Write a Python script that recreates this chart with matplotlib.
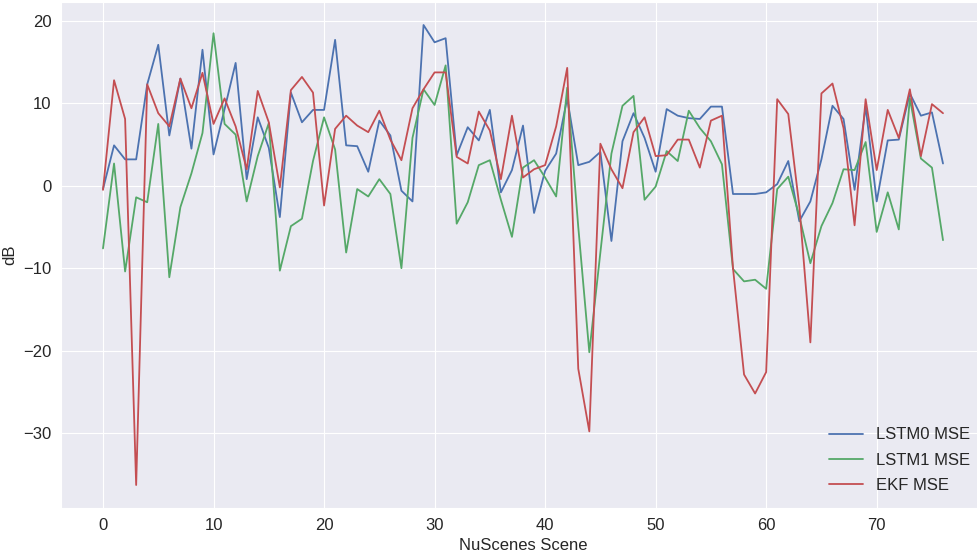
import numpy as np
import matplotlib
matplotlib.use("Agg")
import matplotlib.pyplot as plt
import seaborn as sns

# --------- data ---------
scenes = np.arange(77)

lstm0_mse = [
    -0.4, 4.9, 3.2, 3.2, 12.3, 17.1, 6.1, 13.0, 4.5, 16.5,
    3.8, 9.3, 14.9, 0.8, 8.3, 4.6, -3.8, 11.3, 7.7, 9.2,
    9.2, 17.7, 4.9, 4.8, 1.7, 7.9, 6.1, -0.6, -1.9, 19.5,
    17.4, 17.9, 3.7, 7.1, 5.5, 9.2, -0.8, 1.9, 7.3, -3.3,
    1.8, 3.9, 10.6, 2.5, 2.9, 4.1, -6.7, 5.4, 8.8, 5.8,
    1.7, 9.3, 8.5, 8.2, 8.1, 9.6, 9.6, -1.0, -1.0, -1.0,
    -0.8, 0.2, 3.0, -4.3, -1.9, 3.2, 9.7, 8.1, -0.5, 9.6,
    -1.9, 5.5, 5.6, 11.2, 8.5, 8.9, 2.7,
]

lstm1_mse = [
    -7.6, 2.7, -10.4, -1.4, -2.0, 7.5, -11.1, -2.6, 1.5, 6.4,
    18.5, 7.5, 6.2, -1.9, 3.6, 7.6, -10.3, -4.9, -4.0, 3.0,
    8.3, 4.4, -8.1, -0.4, -1.3, 0.8, -1.0, -10.0, 5.8, 11.7,
    9.8, 14.6, -4.6, -2.0, 2.5, 3.1, -1.7, -6.2, 2.2, 3.1,
    1.0, -1.3, 11.9, -5.0, -20.2, -8.1, 3.9, 9.7, 10.9, -1.7,
    -0.1, 4.2, 3.0, 9.1, 7.0, 5.4, 2.6, -10.1, -11.6, -11.4,
    -12.5, -0.4, 1.1, -3.7, -9.4, -4.9, -2.1, 2.0, 1.9, 5.3,
    -5.6, -0.8, -5.3, 10.6, 3.3, 2.2, -6.6,
]

ekf_mse = [
    -0.5, 12.8, 8.1, -36.3, 12.3, 8.8, 7.2, 13.0, 9.4, 13.7,
    7.5, 10.6, 7.2, 2.0, 11.5, 7.7, -0.2, 11.6, 13.2, 11.3,
    -2.4, 6.9, 8.5, 7.3, 6.5, 9.1, 5.6, 3.1, 9.4, 11.7,
    13.75, 13.75, 3.5, 2.7, 9.0, 6.7, 0.8, 8.5, 1.0, 2.0,
    2.5, 7.2, 14.3, -22.2, -29.8, 5.1, 2.0, -0.3, 6.5, 8.3,
    3.6, 3.7, 5.6, 5.6, 2.2, 7.9, 8.5, -10.0, -22.9, -25.2,
    -22.6, 10.5, 8.7, -2.5, -19.0, 11.2, 12.4, 7.0, -4.8, 10.5,
    1.9, 9.2, 5.8, 11.7, 3.6, 9.9, 8.8,
]

# --------- style ---------
sns.set_style("darkgrid")
plt.rcParams["font.family"] = ["Liberation Sans", "DejaVu Sans"]
plt.rcParams["font.size"] = 12

fig = plt.figure(figsize=(9.77, 5.58), dpi=100)
# axes runs a little past the right edge, like the cropped original
ax = fig.add_axes([61 / 977, 1 - 508 / 558, 924 / 977, 506 / 558])

ax.plot(scenes, lstm0_mse, color="#4C72B0", lw=1.3, label="LSTM0 MSE")
ax.plot(scenes, lstm1_mse, color="#55A868", lw=1.3, label="LSTM1 MSE")
ax.plot(scenes, ekf_mse, color="#C44E52", lw=1.3, label="EKF MSE")

ax.set_xlabel("NuScenes Scene", fontsize=12, labelpad=4)
ax.set_ylabel("dB", fontsize=12)
ax.tick_params(labelsize=12)
ax.set_xticks(np.arange(0, 80, 10))
ax.set_yticks(np.arange(-30, 30, 10))

ax.legend(loc="lower right", fontsize=12, frameon=False, labelspacing=0.62,
          bbox_to_anchor=(1.0, 0.0))

fig.savefig("out.png", dpi=100)
